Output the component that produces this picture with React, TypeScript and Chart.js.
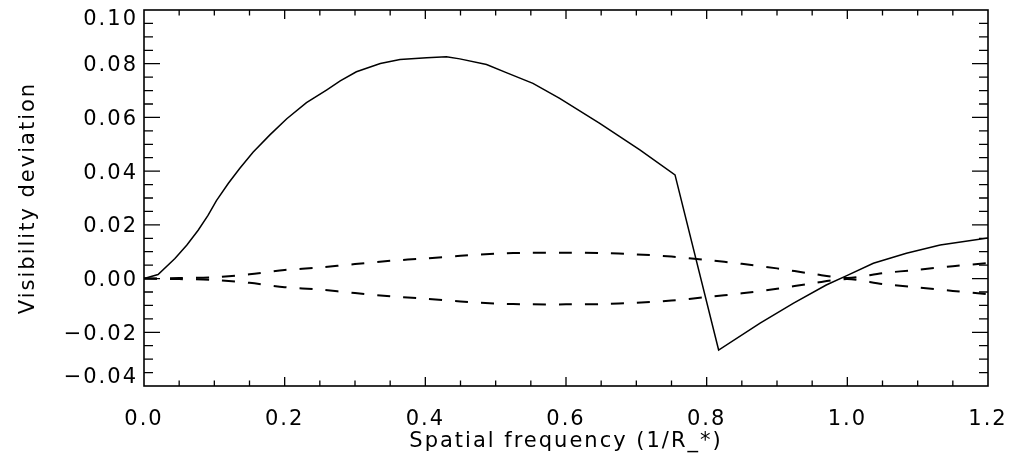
import { useEffect, useRef } from "react";
import { Chart, registerables } from "chart.js";

Chart.register(...registerables);

// Solid curve: visibility deviation vs spatial frequency
const freqSolid = [0, 0.02, 0.044, 0.061, 0.077, 0.091, 0.103, 0.12, 0.136, 0.155, 0.179, 0.203, 0.231, 0.26, 0.279, 0.302, 0.336, 0.364, 0.402, 0.43, 0.449, 0.487, 0.516, 0.553, 0.591, 0.648, 0.705, 0.755, 0.817, 0.876, 0.923, 0.97, 1.0, 1.037, 1.084, 1.132, 1.2];
const visSolid = [0, 0.0015, 0.0075, 0.0125, 0.018, 0.0235, 0.029, 0.0355, 0.041, 0.047, 0.0535, 0.0595, 0.0655, 0.0703, 0.0736, 0.077, 0.0801, 0.0816, 0.0822, 0.0826, 0.0818, 0.0797, 0.0766, 0.0727, 0.0671, 0.0578, 0.0479, 0.0386, -0.0266, -0.0166, -0.0092, -0.0024, 0.0012, 0.0057, 0.0094, 0.0125, 0.0151];

// Dashed envelope (error bounds)
const freqErr = [0, 0.05, 0.1, 0.15, 0.2, 0.25, 0.3, 0.35, 0.4, 0.45, 0.5, 0.55, 0.6, 0.65, 0.7, 0.75, 0.8, 0.85, 0.9, 0.95, 1.0, 1.05, 1.1, 1.15, 1.2];
const errUpper = [0, 0.0002, 0.0005, 0.0016, 0.0032, 0.0041, 0.0054, 0.0066, 0.0075, 0.0085, 0.0093, 0.0096, 0.0096, 0.0095, 0.009, 0.0082, 0.0069, 0.0055, 0.0038, 0.0018, 0.0002, 0.002, 0.0033, 0.0046, 0.0058];
const errLower = [0, -0.0002, -0.0005, -0.0016, -0.0032, -0.0041, -0.0054, -0.0066, -0.0075, -0.0085, -0.0093, -0.0096, -0.0096, -0.0095, -0.009, -0.0082, -0.0069, -0.0055, -0.0038, -0.0018, -0.0002, -0.002, -0.0033, -0.0046, -0.0058];

const xTicks = [0, 0.2, 0.4, 0.6, 0.8, 1.0, 1.2];
const yTicks = [-0.04, -0.02, 0, 0.02, 0.04, 0.06, 0.08, 0.1];
const xTitle = "Spatial frequency (1/R_*)";
const yTitle = "Visibility deviation";

const FONT = "'DejaVu Sans', sans-serif";
const SPACING = "2px";

const fmtY = (n: number) => {
  if (Math.abs(n) < 1e-9) return "0.00";
  return (n < 0 ? "\u2212" : "") + Math.abs(n).toFixed(2);
};

const framePlugin = {
  id: "idlFrame",
  beforeUpdate(chart: any) {
    (chart.ctx as any).letterSpacing = SPACING;
  },
  beforeDraw(chart: any) {
    (chart.ctx as any).letterSpacing = SPACING;
  },
  afterDraw(chart: any) {
    const { ctx, chartArea: a, scales } = chart;
    const xs = scales.x;
    const ys = scales.y;
    ctx.save();
    ctx.strokeStyle = "#000";
    ctx.lineWidth = 1.6;
    ctx.strokeRect(a.left, a.top, a.right - a.left, a.bottom - a.top);
    ctx.lineWidth = 1.3;
    ctx.beginPath();
    for (let i = 1; i < 24; i++) {
      const px = xs.getPixelForValue(i * 0.05);
      const len = i % 4 === 0 ? 9 : 5.5;
      ctx.moveTo(px, a.bottom);
      ctx.lineTo(px, a.bottom - len);
      ctx.moveTo(px, a.top);
      ctx.lineTo(px, a.top + len);
    }
    for (let i = 1; i < 28; i++) {
      const py = ys.getPixelForValue(-0.04 + i * 0.005);
      const len = i % 4 === 0 ? 16 : 9;
      ctx.moveTo(a.left, py);
      ctx.lineTo(a.left + len, py);
      ctx.moveTo(a.right, py);
      ctx.lineTo(a.right - len, py);
    }
    ctx.stroke();

    // y tick labels (kept inside the frame's vertical extent, IDL-style)
    ctx.fillStyle = "#000";
    ctx.font = `21px ${FONT}`;
    (ctx as any).letterSpacing = SPACING;
    ctx.textAlign = "right";
    ctx.textBaseline = "middle";
    for (const v of yTicks) {
      const py = ys.getPixelForValue(v);
      const cy = Math.min(Math.max(py + 2, a.top + 10), a.bottom - 8);
      ctx.fillText(fmtY(v), a.left - 6, cy);
    }
    ctx.restore();
  },
};

export default function App() {
  const ref = useRef<HTMLCanvasElement | null>(null);

  useEffect(() => {
    if (!ref.current) return;
    const toPts = (xs: number[], ys: number[]) => xs.map((x, i) => ({ x, y: ys[i] }));
    const chart = new Chart(ref.current, {
      type: "line",
      data: {
        datasets: [
          {
            data: toPts(freqErr, errUpper),
            borderColor: "#000",
            borderWidth: 2,
            borderDash: [13, 13],
            pointRadius: 0,
            tension: 0.3,
            fill: false,
          },
          {
            data: toPts(freqErr, errLower),
            borderColor: "#000",
            borderWidth: 2,
            borderDash: [13, 13],
            pointRadius: 0,
            tension: 0.3,
            fill: false,
          },
          {
            data: toPts(freqSolid, visSolid),
            borderColor: "#000",
            borderWidth: 1.5,
            pointRadius: 0,
            tension: 0,
            fill: false,
          },
        ],
      },
      options: {
        animation: false,
        responsive: false,
        events: [],
        layout: { padding: { top: 10, right: 32, left: 0, bottom: 0 } },
        plugins: { legend: { display: false }, tooltip: { enabled: false } },
        scales: {
          x: {
            type: "linear",
            min: 0,
            max: 1.2,
            grid: { display: false, drawTicks: false },
            border: { display: false },
            afterBuildTicks: (s: any) => {
              s.ticks = xTicks.map((v) => ({ value: v }));
            },
            afterFit: (s: any) => {
              s.height = 74;
              s.paddingLeft = 0;
              s.paddingRight = 0;
            },
            ticks: {
              color: "#000",
              padding: 21,
              maxRotation: 0,
              font: { family: FONT, size: 21 },
              callback: (v: any) => Number(v).toFixed(1),
            },
            title: {
              display: true,
              text: xTitle,
              color: "#000",
              font: { family: FONT, size: 21 },
              padding: { top: 0, bottom: 6 },
            },
          },
          y: {
            type: "linear",
            min: -0.04,
            max: 0.1,
            grid: { display: false, drawTicks: false },
            border: { display: false },
            afterBuildTicks: (s: any) => {
              s.ticks = yTicks.map((v) => ({ value: v }));
            },
            afterFit: (s: any) => {
              s.width = 144;
              s.paddingTop = 0;
              s.paddingBottom = 0;
            },
            ticks: {
              display: false,
            },
            title: {
              display: true,
              text: yTitle,
              color: "#000",
              font: { family: FONT, size: 21 },
              padding: { top: 16, bottom: 0 },
            },
          },
        },
      },
      plugins: [framePlugin],
    });
    return () => chart.destroy();
  }, []);

  return (
    <canvas
      ref={ref}
      width={1020}
      height={460}
      style={{ position: "absolute", left: 0, top: 0, display: "block", width: 1020, height: 460 }}
    />
  );
}
